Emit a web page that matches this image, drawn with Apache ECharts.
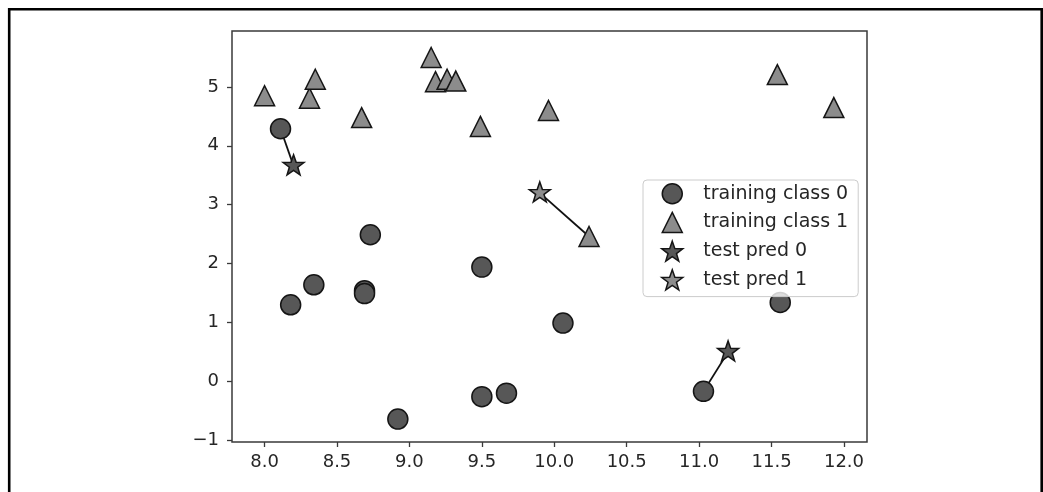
<!DOCTYPE html>
<html><head><meta charset="utf-8">
<script src="https://cdn.jsdelivr.net/npm/echarts@6/dist/echarts.min.js"></script>
<style>html,body{margin:0;padding:0;background:#fff}#c{width:1043px;height:492px}</style>
</head><body><div id="c"></div>
<script>
// ---- data ----
const class0X = [11.03, 8.69, 8.11, 9.67, 8.69, 8.92, 8.18, 8.73, 10.06, 9.50, 8.34, 9.50, 11.56];
const class0Y = [-0.17, 1.54, 4.29, -0.20, 1.49, -0.64, 1.30, 2.49, 0.99, -0.26, 1.64, 1.94, 1.34];
const class1X = [9.96, 11.54, 8.31, 11.93, 8.35, 8.67, 9.18, 10.24, 9.49, 9.26, 8.00, 9.32, 9.15];
const class1Y = [4.60, 5.21, 4.81, 4.65, 5.13, 4.48, 5.09, 2.46, 4.33, 5.13, 4.85, 5.10, 5.50];
const pred0X = [8.2, 11.2];
const pred0Y = [3.66, 0.5];
const pred1X = [9.9];
const pred1Y = [3.2];
// each test point and its nearest training neighbour
const testX = [8.2, 9.9, 11.2];
const testY = [3.66, 3.2, 0.5];
const nearX = [8.11, 10.24, 11.03];
const nearY = [4.29, 2.46, -0.17];
const xTicks = [8.0, 8.5, 9.0, 9.5, 10.0, 10.5, 11.0, 11.5, 12.0];
const xTickLabels = ['8.0', '8.5', '9.0', '9.5', '10.0', '10.5', '11.0', '11.5', '12.0'];
const yTicks = [-1, 0, 1, 2, 3, 4, 5];
const yTickLabels = ['\u22121', '0', '1', '2', '3', '4', '5'];
const seriesNames = ['training class 0', 'training class 1', 'test pred 0', 'test pred 1'];

// ---- helpers ----
const zip = (xs, ys) => xs.map((x, i) => [x, ys[i]]);
function starPath() {
  const pts = [];
  for (let k = 0; k < 10; k++) {
    const a = (-90 + k * 36) * Math.PI / 180;
    const r = k % 2 === 0 ? 1 : 0.40;
    pts.push((r * Math.cos(a)).toFixed(4) + ' ' + (r * Math.sin(a)).toFixed(4));
  }
  return 'path://M' + pts.join(' L') + ' Z';
}
const STAR = starPath();
const TRI = 'path://M0 -1 L1 1 L-1 1 Z';
const FONT = 'DejaVu Sans';
const TXT = '#262626';
const EDGE = '#151515';
const C0 = '#575757';
const C1 = '#8c8c8c';

const chart = echarts.init(document.getElementById('c'), null, {renderer: 'canvas'});
chart.setOption({
  animation: false,
  backgroundColor: '#fff',
  grid: {left: 232, right: 176, top: 31, bottom: 50, show: true,
         borderColor: '#3a3a3a', borderWidth: 1.5, backgroundColor: 'transparent'},
  xAxis: {
    type: 'value', min: 7.775, max: 12.159,
    splitLine: {show: false}, axisLine: {show: false, onZero: false},
    axisTick: {show: true, length: 5, lineStyle: {color: '#3a3a3a', width: 1.3}, customValues: xTicks},
    axisLabel: {customValues: xTicks, margin: 11, fontFamily: FONT, fontSize: 18, color: TXT,
      formatter: v => { const i = xTicks.findIndex(t => Math.abs(t - v) < 1e-6); return i >= 0 ? xTickLabels[i] : ''; }}
  },
  yAxis: {
    type: 'value', min: -1.03, max: 5.95,
    splitLine: {show: false}, axisLine: {show: false, onZero: false},
    axisTick: {show: true, length: 5, lineStyle: {color: '#3a3a3a', width: 1.3}, customValues: yTicks},
    axisLabel: {customValues: yTicks, margin: 13, fontFamily: FONT, fontSize: 18, color: TXT,
      formatter: v => { const i = yTicks.findIndex(t => Math.abs(t - v) < 1e-6); return i >= 0 ? yTickLabels[i] : ''; }}
  },
  legend: {
    data: seriesNames,
    orient: 'vertical', left: 643, top: 180,
    padding: [3, 10, 6, 18], itemGap: 7.2, itemWidth: 52, itemHeight: 20,
    backgroundColor: 'rgba(255,255,255,0.8)', borderColor: '#cccccc', borderWidth: 1, borderRadius: 4,
    textStyle: {fontFamily: FONT, fontSize: 19, color: TXT},
    itemStyle: {borderColor: EDGE, borderWidth: 1.5},
    selectedMode: false
  },
  graphic: [{
    type: 'rect', silent: true, z: 100,
    shape: {x: 9.2, y: 9.3, width: 1032.5, height: 600},
    style: {fill: 'none', stroke: '#000', lineWidth: 2.6}
  }],
  series: [
    {
      type: 'lines', coordinateSystem: 'cartesian2d', z: 1, silent: true,
      lineStyle: {color: '#111', width: 1.8, opacity: 1},
      data: testX.map((x, i) => ({coords: [[x, testY[i]], [nearX[i], nearY[i]]]}))
    },
    {name: seriesNames[2], type: 'scatter', z: 2, symbol: STAR, symbolSize: [21, 20], symbolOffset: [0, -1],
     itemStyle: {color: C0, borderColor: EDGE, borderWidth: 1.5, opacity: 1}, data: zip(pred0X, pred0Y)},
    {name: seriesNames[3], type: 'scatter', z: 2, symbol: STAR, symbolSize: [21, 20], symbolOffset: [0, -1],
     itemStyle: {color: C1, borderColor: EDGE, borderWidth: 1.5, opacity: 1}, data: zip(pred1X, pred1Y)},
    {name: seriesNames[0], type: 'scatter', z: 3, symbol: 'circle', symbolSize: 20,
     itemStyle: {color: C0, borderColor: EDGE, borderWidth: 1.5, opacity: 1}, data: zip(class0X, class0Y)},
    {name: seriesNames[1], type: 'scatter', z: 3, symbol: TRI, symbolSize: 20,
     itemStyle: {color: C1, borderColor: EDGE, borderWidth: 1.5, opacity: 1}, data: zip(class1X, class1Y)}
  ]
});
</script>
</body></html>
